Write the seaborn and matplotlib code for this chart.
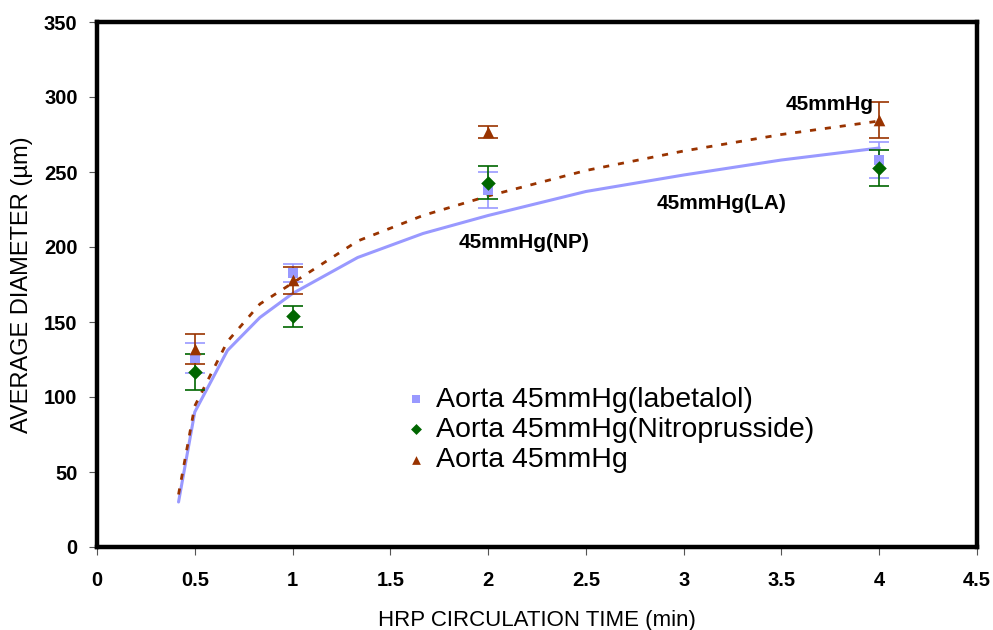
import matplotlib
matplotlib.use("Agg")
import matplotlib.pyplot as plt
import seaborn as sns
import pandas as pd

# ---- data ----
times = [0.5, 1, 2, 4]
labetalol = [126, 183, 238, 258]
labetalol_err = [10, 6, 12, 12]
nitroprusside = [117, 154, 243, 253]
nitroprusside_err = [12, 7, 11, 12]
aorta = [132, 178, 277, 285]
aorta_err = [10, 9, 4, 12]

trend_x = [0.417, 0.5, 0.667, 0.833, 1, 1.333, 1.667, 2, 2.5, 3, 3.5, 4]
trend_la = [30, 90, 131, 153, 169, 193, 209, 221, 237, 248, 258, 266]
trend_aorta = [35, 94, 137, 162, 176, 204, 221, 234, 251, 264, 275, 284]

series_names = ["Aorta 45mmHg(labetalol)", "Aorta 45mmHg(Nitroprusside)", "Aorta 45mmHg"]
colors = ["#9999FF", "#006600", "#993300"]
markers = ["s", "D", "^"]

sns.set_theme(style="white")
plt.rcParams["font.family"] = ["Liberation Sans", "DejaVu Sans"]
plt.rcParams["text.color"] = "black"
plt.rcParams["axes.labelcolor"] = "black"

fig = plt.figure(figsize=(9.93, 6.30), dpi=100)
ax = fig.add_axes([97/993, 1-547/630, (977-97)/993, (547-22)/630])

trend_df = pd.DataFrame({"x": trend_x, "la": trend_la, "ao": trend_aorta})
sns.lineplot(data=trend_df, x="x", y="la", ax=ax, color="#9999FF", lw=2.2,
             zorder=1, legend=False)
sns.lineplot(data=trend_df, x="x", y="ao", ax=ax, color="#993300", lw=2.0,
             dashes=False, zorder=1, legend=False)
ax.lines[-1].set_linestyle((0, (2.2, 3.2)))

vals = [labetalol, nitroprusside, aorta]
errs = [labetalol_err, nitroprusside_err, aorta_err]
sizes = [60, 55, 70]
for name, v, e, c, m, s in zip(series_names, vals, errs, colors, markers, sizes):
    ax.errorbar(times, v, yerr=e, fmt="none", ecolor=c, elinewidth=1.2,
                capsize=7, capthick=1.2, zorder=2)
    df = pd.DataFrame({"t": times, "v": v})
    sns.scatterplot(data=df, x="t", y="v", ax=ax, color=c, marker=m, s=s,
                    edgecolor=c, linewidth=0, zorder=3, label=name)

ax.set_xlim(0, 4.5)
ax.set_ylim(0, 350)
ax.set_xticks([0, 0.5, 1, 1.5, 2, 2.5, 3, 3.5, 4, 4.5])
ax.set_xticklabels(["0", "0.5", "1", "1.5", "2", "2.5", "3", "3.5", "4", "4.5"])
ax.set_yticks(range(0, 351, 50))
for lab in ax.get_xticklabels() + ax.get_yticklabels():
    lab.set_fontweight("bold")
    lab.set_fontsize(14.5)
    lab.set_color("black")
ax.tick_params(axis="both", direction="out", length=6, width=0.8,
               color="#555555", pad=8, left=True, bottom=True)
ax.tick_params(axis="x", pad=11)

for sp in ax.spines.values():
    sp.set_linewidth(3.2)
    sp.set_color("black")

ax.set_xlabel("HRP CIRCULATION TIME (min)", fontsize=16, labelpad=15, color="black")
ax.set_ylabel("AVERAGE DIAMETER (\u00b5m)", fontsize=17, labelpad=8, color="black")

ax.text(3.97, 295, "45mmHg", fontsize=15, fontweight="bold", ha="right", va="center", color="black")
ax.text(3.195, 229, "45mmHg(LA)", fontsize=15, fontweight="bold", ha="center", va="center", color="black")
ax.text(2.185, 203, "45mmHg(NP)", fontsize=15, fontweight="bold", ha="center", va="center", color="black")

leg = ax.legend(loc="upper left", bbox_to_anchor=(383/993, 1-361/630),
                bbox_transform=fig.transFigure, frameon=False, fontsize=20.5,
                handlelength=0.5, handletextpad=0.45, labelspacing=0.15,
                markerscale=0.75)
for t in leg.get_texts():
    t.set_color("black")

fig.savefig("out.png", dpi=100)
